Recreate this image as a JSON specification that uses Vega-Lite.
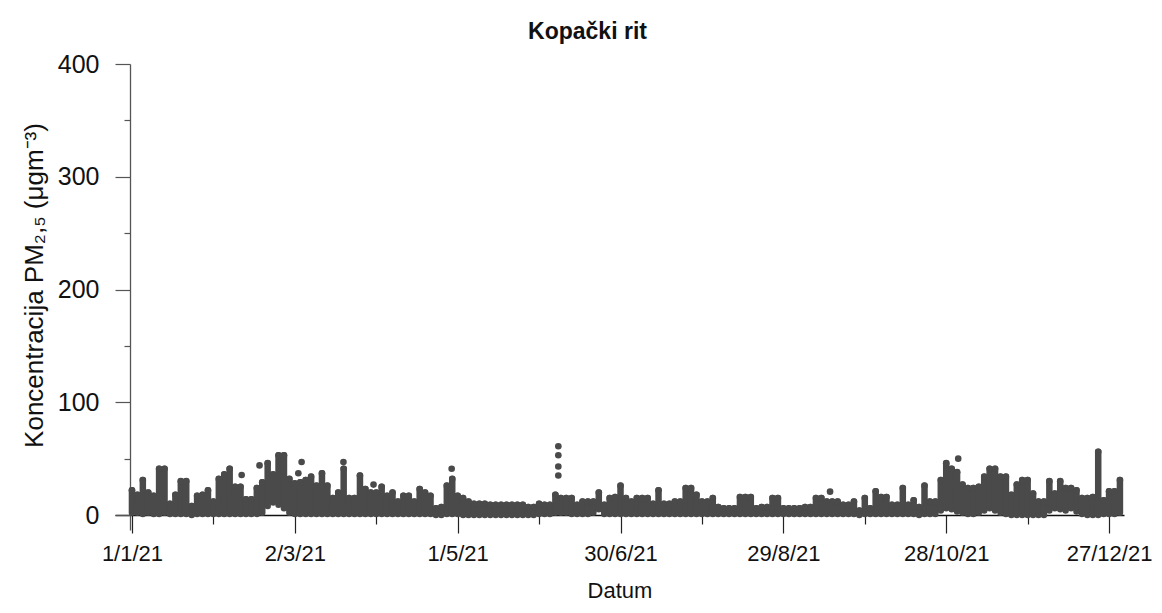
{
  "$schema": "https://vega.github.io/schema/vega-lite/v6.json",
  "width": 1009,
  "height": 466,
  "autosize": {"type": "none"},
  "padding": {"left": 115, "top": 64, "right": 38, "bottom": 83},
  "background": "white",
  "config": {"view": {"stroke": null}, "font": "Liberation Sans"},
  "title": {"text": "Kopački rit", "fontSize": 23, "fontWeight": "bold", "font": "Liberation Sans", "color": "#111", "anchor": "middle", "dx": -32, "offset": 8, "frame": "group"},
  "datasets": {
    "band": [
      {"d": "2021-01-01", "lo": 2, "hi": 22}, {"d": "2021-01-03", "lo": 2, "hi": 18}, {"d": "2021-01-05", "lo": 1, "hi": 31}, {"d": "2021-01-07", "lo": 2, "hi": 20},
      {"d": "2021-01-09", "lo": 1, "hi": 17}, {"d": "2021-01-11", "lo": 1, "hi": 41}, {"d": "2021-01-13", "lo": 2, "hi": 41}, {"d": "2021-01-15", "lo": 1, "hi": 10},
      {"d": "2021-01-17", "lo": 1, "hi": 18}, {"d": "2021-01-19", "lo": 1, "hi": 30}, {"d": "2021-01-21", "lo": 1, "hi": 30}, {"d": "2021-01-23", "lo": 0, "hi": 8},
      {"d": "2021-01-25", "lo": 1, "hi": 17}, {"d": "2021-01-27", "lo": 1, "hi": 18}, {"d": "2021-01-29", "lo": 1, "hi": 22}, {"d": "2021-01-31", "lo": 1, "hi": 12},
      {"d": "2021-02-02", "lo": 1, "hi": 32}, {"d": "2021-02-04", "lo": 1, "hi": 36}, {"d": "2021-02-06", "lo": 1, "hi": 41}, {"d": "2021-02-08", "lo": 1, "hi": 25},
      {"d": "2021-02-10", "lo": 1, "hi": 25}, {"d": "2021-02-12", "lo": 1, "hi": 14}, {"d": "2021-02-14", "lo": 1, "hi": 14}, {"d": "2021-02-16", "lo": 1, "hi": 24},
      {"d": "2021-02-18", "lo": 2, "hi": 29}, {"d": "2021-02-20", "lo": 8, "hi": 46}, {"d": "2021-02-22", "lo": 11, "hi": 36}, {"d": "2021-02-24", "lo": 9, "hi": 53},
      {"d": "2021-02-26", "lo": 6, "hi": 53}, {"d": "2021-02-28", "lo": 2, "hi": 32}, {"d": "2021-03-02", "lo": 1, "hi": 28}, {"d": "2021-03-04", "lo": 1, "hi": 29},
      {"d": "2021-03-06", "lo": 1, "hi": 31}, {"d": "2021-03-08", "lo": 1, "hi": 34}, {"d": "2021-03-10", "lo": 1, "hi": 26}, {"d": "2021-03-12", "lo": 1, "hi": 37},
      {"d": "2021-03-14", "lo": 1, "hi": 26}, {"d": "2021-03-16", "lo": 1, "hi": 15}, {"d": "2021-03-18", "lo": 1, "hi": 20}, {"d": "2021-03-20", "lo": 1, "hi": 41},
      {"d": "2021-03-22", "lo": 1, "hi": 15}, {"d": "2021-03-24", "lo": 1, "hi": 15}, {"d": "2021-03-26", "lo": 1, "hi": 35}, {"d": "2021-03-28", "lo": 1, "hi": 23},
      {"d": "2021-03-30", "lo": 1, "hi": 20}, {"d": "2021-04-01", "lo": 1, "hi": 20}, {"d": "2021-04-03", "lo": 1, "hi": 25}, {"d": "2021-04-05", "lo": 1, "hi": 17},
      {"d": "2021-04-07", "lo": 1, "hi": 20}, {"d": "2021-04-09", "lo": 1, "hi": 12}, {"d": "2021-04-11", "lo": 1, "hi": 17}, {"d": "2021-04-13", "lo": 1, "hi": 17},
      {"d": "2021-04-15", "lo": 1, "hi": 12}, {"d": "2021-04-17", "lo": 1, "hi": 23}, {"d": "2021-04-19", "lo": 1, "hi": 20}, {"d": "2021-04-21", "lo": 1, "hi": 17},
      {"d": "2021-04-23", "lo": 0, "hi": 6}, {"d": "2021-04-25", "lo": 0, "hi": 7}, {"d": "2021-04-27", "lo": 1, "hi": 26}, {"d": "2021-04-29", "lo": 1, "hi": 32},
      {"d": "2021-05-01", "lo": 1, "hi": 17}, {"d": "2021-05-03", "lo": 0, "hi": 15}, {"d": "2021-05-05", "lo": 0, "hi": 12}, {"d": "2021-05-07", "lo": 0, "hi": 10},
      {"d": "2021-05-09", "lo": 0, "hi": 10}, {"d": "2021-05-11", "lo": 0, "hi": 10}, {"d": "2021-05-13", "lo": 0, "hi": 9}, {"d": "2021-05-15", "lo": 0, "hi": 9},
      {"d": "2021-05-17", "lo": 0, "hi": 9}, {"d": "2021-05-19", "lo": 0, "hi": 9}, {"d": "2021-05-21", "lo": 0, "hi": 9}, {"d": "2021-05-23", "lo": 0, "hi": 9},
      {"d": "2021-05-25", "lo": 0, "hi": 9}, {"d": "2021-05-27", "lo": 0, "hi": 7}, {"d": "2021-05-29", "lo": 0, "hi": 7}, {"d": "2021-05-31", "lo": 1, "hi": 10},
      {"d": "2021-06-02", "lo": 1, "hi": 9}, {"d": "2021-06-04", "lo": 1, "hi": 9}, {"d": "2021-06-06", "lo": 2, "hi": 18}, {"d": "2021-06-08", "lo": 2, "hi": 15},
      {"d": "2021-06-10", "lo": 2, "hi": 15}, {"d": "2021-06-12", "lo": 1, "hi": 15}, {"d": "2021-06-14", "lo": 1, "hi": 9}, {"d": "2021-06-16", "lo": 1, "hi": 12},
      {"d": "2021-06-18", "lo": 1, "hi": 12}, {"d": "2021-06-20", "lo": 2, "hi": 12}, {"d": "2021-06-22", "lo": 5, "hi": 20}, {"d": "2021-06-24", "lo": 1, "hi": 9},
      {"d": "2021-06-26", "lo": 1, "hi": 15}, {"d": "2021-06-28", "lo": 1, "hi": 16}, {"d": "2021-06-30", "lo": 1, "hi": 26}, {"d": "2021-07-02", "lo": 1, "hi": 15},
      {"d": "2021-07-04", "lo": 1, "hi": 12}, {"d": "2021-07-06", "lo": 1, "hi": 15}, {"d": "2021-07-08", "lo": 1, "hi": 15}, {"d": "2021-07-10", "lo": 1, "hi": 15},
      {"d": "2021-07-12", "lo": 1, "hi": 10}, {"d": "2021-07-14", "lo": 1, "hi": 22}, {"d": "2021-07-16", "lo": 1, "hi": 10}, {"d": "2021-07-18", "lo": 1, "hi": 10},
      {"d": "2021-07-20", "lo": 1, "hi": 12}, {"d": "2021-07-22", "lo": 1, "hi": 12}, {"d": "2021-07-24", "lo": 1, "hi": 24}, {"d": "2021-07-26", "lo": 1, "hi": 24},
      {"d": "2021-07-28", "lo": 1, "hi": 18}, {"d": "2021-07-30", "lo": 1, "hi": 12}, {"d": "2021-08-01", "lo": 1, "hi": 12}, {"d": "2021-08-03", "lo": 1, "hi": 15},
      {"d": "2021-08-05", "lo": 1, "hi": 7}, {"d": "2021-08-07", "lo": 1, "hi": 6}, {"d": "2021-08-09", "lo": 1, "hi": 6}, {"d": "2021-08-11", "lo": 1, "hi": 6},
      {"d": "2021-08-13", "lo": 1, "hi": 16}, {"d": "2021-08-15", "lo": 1, "hi": 16}, {"d": "2021-08-17", "lo": 1, "hi": 16}, {"d": "2021-08-19", "lo": 1, "hi": 6},
      {"d": "2021-08-21", "lo": 1, "hi": 7}, {"d": "2021-08-23", "lo": 1, "hi": 7}, {"d": "2021-08-25", "lo": 1, "hi": 15}, {"d": "2021-08-27", "lo": 1, "hi": 15},
      {"d": "2021-08-29", "lo": 1, "hi": 6}, {"d": "2021-08-31", "lo": 1, "hi": 6}, {"d": "2021-09-02", "lo": 1, "hi": 6}, {"d": "2021-09-04", "lo": 1, "hi": 6},
      {"d": "2021-09-06", "lo": 1, "hi": 7}, {"d": "2021-09-08", "lo": 1, "hi": 7}, {"d": "2021-09-10", "lo": 1, "hi": 15}, {"d": "2021-09-12", "lo": 1, "hi": 15},
      {"d": "2021-09-14", "lo": 1, "hi": 12}, {"d": "2021-09-16", "lo": 1, "hi": 12}, {"d": "2021-09-18", "lo": 1, "hi": 12}, {"d": "2021-09-20", "lo": 1, "hi": 9},
      {"d": "2021-09-22", "lo": 1, "hi": 9}, {"d": "2021-09-24", "lo": 1, "hi": 12}, {"d": "2021-09-26", "lo": 0, "hi": 4}, {"d": "2021-09-28", "lo": 1, "hi": 15},
      {"d": "2021-09-30", "lo": 1, "hi": 6}, {"d": "2021-10-02", "lo": 1, "hi": 21}, {"d": "2021-10-04", "lo": 1, "hi": 16}, {"d": "2021-10-06", "lo": 1, "hi": 16},
      {"d": "2021-10-08", "lo": 1, "hi": 9}, {"d": "2021-10-10", "lo": 1, "hi": 9}, {"d": "2021-10-12", "lo": 1, "hi": 24}, {"d": "2021-10-14", "lo": 1, "hi": 9},
      {"d": "2021-10-16", "lo": 1, "hi": 13}, {"d": "2021-10-18", "lo": 0, "hi": 7}, {"d": "2021-10-20", "lo": 1, "hi": 26}, {"d": "2021-10-22", "lo": 1, "hi": 12},
      {"d": "2021-10-24", "lo": 1, "hi": 12}, {"d": "2021-10-26", "lo": 4, "hi": 31}, {"d": "2021-10-28", "lo": 6, "hi": 46}, {"d": "2021-10-30", "lo": 5, "hi": 41},
      {"d": "2021-11-01", "lo": 3, "hi": 38}, {"d": "2021-11-03", "lo": 2, "hi": 27}, {"d": "2021-11-05", "lo": 1, "hi": 24}, {"d": "2021-11-07", "lo": 1, "hi": 24},
      {"d": "2021-11-09", "lo": 2, "hi": 25}, {"d": "2021-11-11", "lo": 4, "hi": 34}, {"d": "2021-11-13", "lo": 6, "hi": 41}, {"d": "2021-11-15", "lo": 4, "hi": 41},
      {"d": "2021-11-17", "lo": 2, "hi": 34}, {"d": "2021-11-19", "lo": 1, "hi": 34}, {"d": "2021-11-21", "lo": 0, "hi": 18}, {"d": "2021-11-23", "lo": 0, "hi": 27},
      {"d": "2021-11-25", "lo": 0, "hi": 31}, {"d": "2021-11-27", "lo": 0, "hi": 31}, {"d": "2021-11-29", "lo": 0, "hi": 19}, {"d": "2021-12-01", "lo": 0, "hi": 12},
      {"d": "2021-12-03", "lo": 0, "hi": 12}, {"d": "2021-12-05", "lo": 4, "hi": 30}, {"d": "2021-12-07", "lo": 6, "hi": 19}, {"d": "2021-12-09", "lo": 5, "hi": 30},
      {"d": "2021-12-11", "lo": 4, "hi": 24}, {"d": "2021-12-13", "lo": 6, "hi": 24}, {"d": "2021-12-15", "lo": 3, "hi": 22}, {"d": "2021-12-17", "lo": 1, "hi": 15},
      {"d": "2021-12-19", "lo": 0, "hi": 15}, {"d": "2021-12-21", "lo": 0, "hi": 16}, {"d": "2021-12-23", "lo": 0, "hi": 56}, {"d": "2021-12-25", "lo": 1, "hi": 13},
      {"d": "2021-12-27", "lo": 1, "hi": 21}, {"d": "2021-12-29", "lo": 1, "hi": 21}, {"d": "2021-12-31", "lo": 2, "hi": 31}
    ],
    "dots": [
      {"d": "2021-02-10T10:00:00Z", "v": 35.5},
      {"d": "2021-02-17T00:00:00Z", "v": 44},
      {"d": "2021-03-03T07:00:00Z", "v": 37},
      {"d": "2021-03-04T12:00:00Z", "v": 47},
      {"d": "2021-03-19T22:00:00Z", "v": 47},
      {"d": "2021-03-31T00:00:00Z", "v": 27},
      {"d": "2021-04-28T19:00:00Z", "v": 41},
      {"d": "2021-06-07T02:00:00Z", "v": 61},
      {"d": "2021-06-07T02:00:00Z", "v": 53},
      {"d": "2021-06-07T02:00:00Z", "v": 43},
      {"d": "2021-06-07T02:00:00Z", "v": 35},
      {"d": "2021-09-15T05:00:00Z", "v": 20.7},
      {"d": "2021-11-01T10:00:00Z", "v": 50}
    ]
  },
  "layer": [
    {
      "data": {"name": "band"},
      "mark": {"type": "rule", "strokeWidth": 6.5, "strokeCap": "round", "color": "#4a4a4a"},
      "encoding": {
        "x": {
          "field": "d", "type": "temporal",
          "scale": {"type": "utc", "domain": [{"year": 2020, "month": 12, "date": 25, "hours": 18, "utc": true}, {"year": 2022, "month": 1, "date": 1, "hours": 12, "utc": true}], "nice": false},
          "axis": {
            "orient": "bottom", "offset": -15, "grid": false,
            "values": [
              {"year": 2021, "month": 1, "date": 1, "utc": true},
              {"year": 2021, "month": 3, "date": 2, "utc": true},
              {"year": 2021, "month": 5, "date": 1, "utc": true},
              {"year": 2021, "month": 6, "date": 30, "utc": true},
              {"year": 2021, "month": 8, "date": 29, "utc": true},
              {"year": 2021, "month": 10, "date": 28, "utc": true},
              {"year": 2021, "month": 12, "date": 27, "utc": true}
            ],
            "labelExpr": "utcFormat(datum.value, '%-d/%-m/%y')",
            "domainColor": "#111", "domainWidth": 1.3,
            "tickColor": "#222", "tickSize": 18, "tickWidth": 1.2,
            "labelFont": "Liberation Sans", "labelFontSize": 22, "labelColor": "#111", "labelPadding": 10, "labelFlush": false, "labelOverlap": false,
            "title": "Datum", "titleFont": "Liberation Sans", "titleFontSize": 22, "titleFontWeight": "normal", "titleColor": "#111", "titlePadding": 16
          }
        },
        "y": {
          "field": "lo", "type": "quantitative",
          "scale": {"domain": [-13.3, 400], "nice": false, "zero": false},
          "axis": {
            "orient": "left", "offset": -15, "grid": false,
            "values": [0, 100, 200, 300, 400],
            "domainColor": "#555", "domainWidth": 1.3,
            "tickColor": "#555", "tickSize": 15, "tickWidth": 1.2,
            "labelFont": "Liberation Sans", "labelFontSize": 25, "labelColor": "#111", "labelPadding": 16,
            "title": "Koncentracija PM₂,₅ (μgm⁻³)", "titleFont": "Liberation Sans", "titleFontSize": 26, "titleFontWeight": "normal", "titleColor": "#111", "titlePadding": 10, "titleY": 221
          }
        },
        "y2": {"field": "hi"}
      }
    },
    {
      "data": {"name": "band"},
      "mark": {"type": "circle", "size": 44, "opacity": 1, "color": "#4a4a4a"},
      "encoding": {
        "x": {"field": "d", "type": "temporal", "axis": null},
        "y": {"field": "hi", "type": "quantitative", "axis": null}
      }
    },
    {
      "data": {"name": "dots"},
      "mark": {"type": "circle", "size": 44, "opacity": 1, "color": "#4a4a4a"},
      "encoding": {
        "x": {
          "field": "d", "type": "temporal",
          "axis": {
            "orient": "bottom", "offset": -15, "grid": false, "domain": false, "labels": false, "title": null,
            "values": [
              {"year": 2021, "month": 1, "date": 31, "utc": true},
              {"year": 2021, "month": 4, "date": 1, "utc": true},
              {"year": 2021, "month": 5, "date": 31, "utc": true},
              {"year": 2021, "month": 7, "date": 30, "utc": true},
              {"year": 2021, "month": 9, "date": 28, "utc": true},
              {"year": 2021, "month": 11, "date": 27, "utc": true}
            ],
            "tickColor": "#222", "tickSize": 9, "tickWidth": 1.2
          }
        },
        "y": {
          "field": "v", "type": "quantitative",
          "axis": {
            "orient": "left", "offset": -15, "grid": false, "domain": false, "labels": false, "title": null,
            "values": [50, 150, 250, 350],
            "tickColor": "#555", "tickSize": 6, "tickWidth": 1.2
          }
        }
      }
    }
  ],
  "resolve": {"axis": {"x": "independent", "y": "independent"}}
}
